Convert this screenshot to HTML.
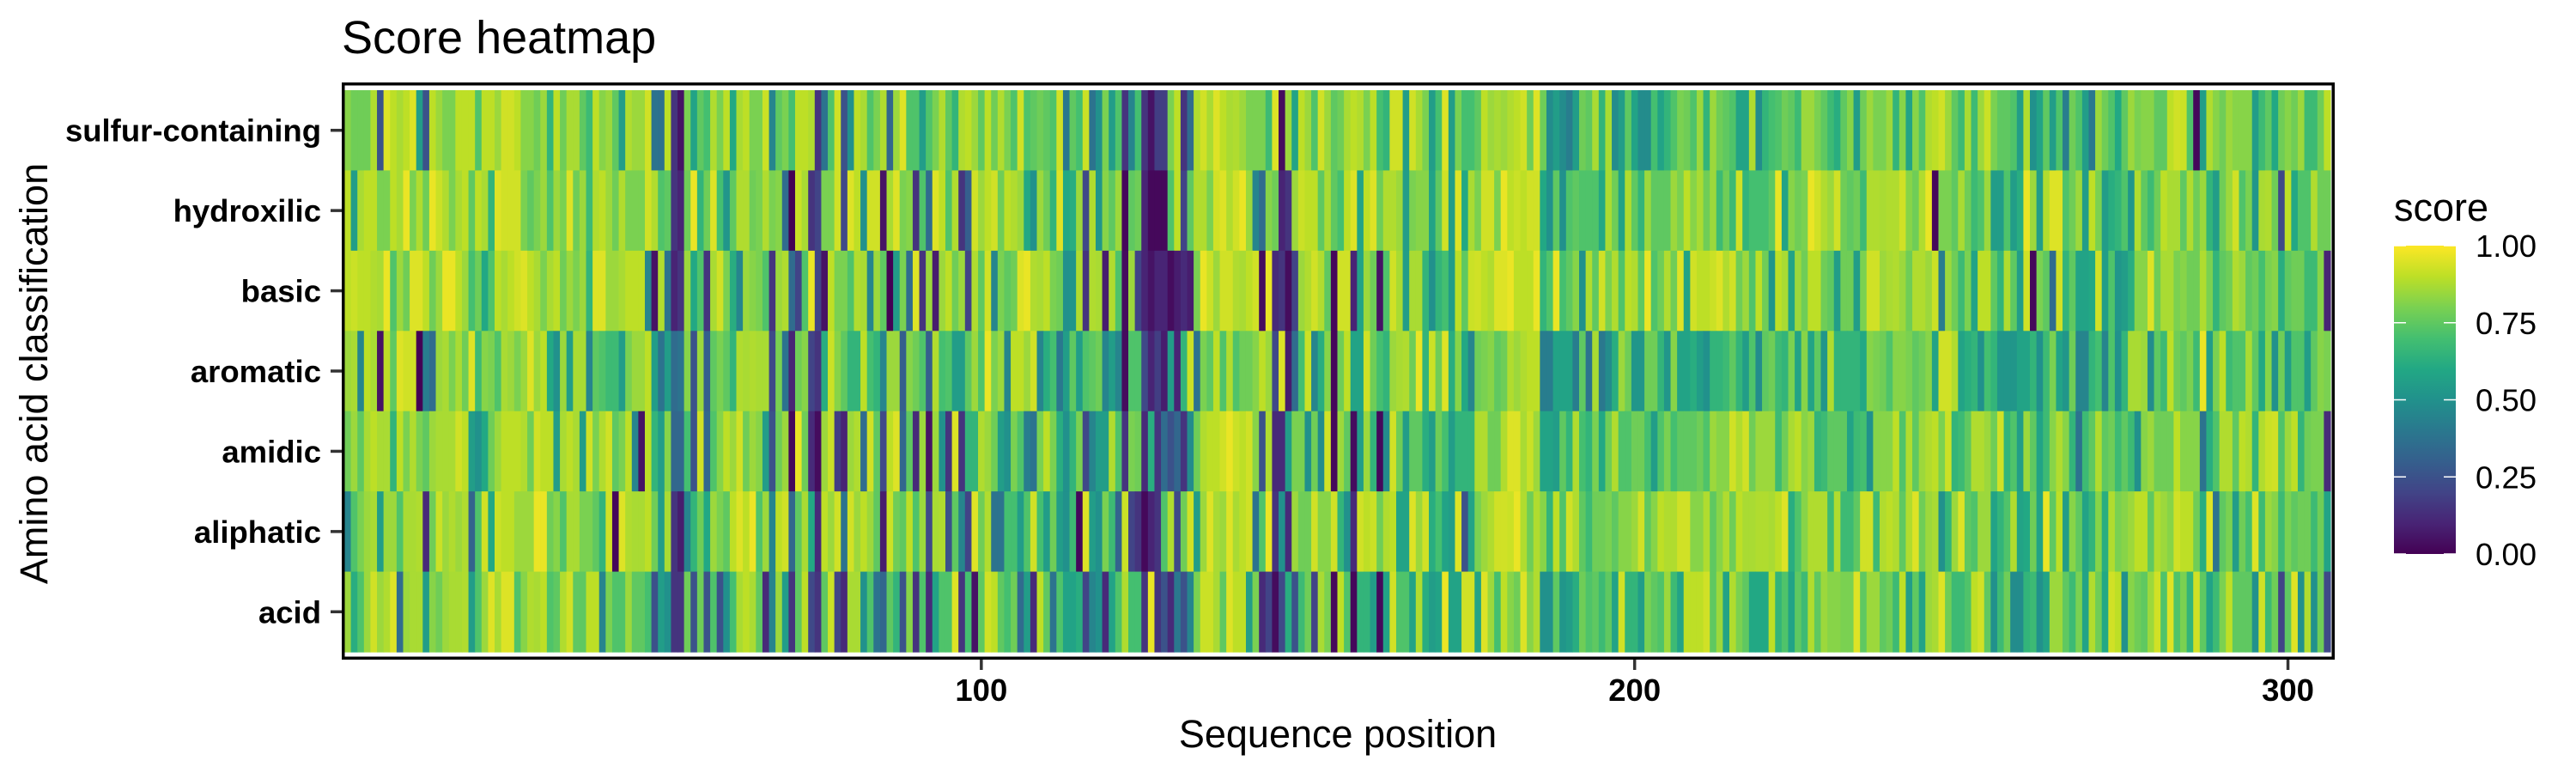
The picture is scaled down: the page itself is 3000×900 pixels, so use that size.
<!DOCTYPE html>
<html><head><meta charset="utf-8"><title>Score heatmap</title>
<style>
html,body{margin:0;padding:0;background:#fff;}
svg{display:block;font-family:"Liberation Sans",Arial,sans-serif;}
</style></head>
<body>
<svg id="chart" xmlns="http://www.w3.org/2000/svg" width="3000" height="900" viewBox="0 0 3000 900">
  <rect x="0" y="0" width="3000" height="900" fill="#fff"/>
  <text x="398" y="62" font-size="54" fill="#000">Score heatmap</text>
  <g id="tiles"></g>
  <rect x="399.75" y="97.75" width="2317.5" height="668.5" fill="none" stroke="#000" stroke-width="3.5"/>
  <g id="yaxis"></g>
  <g id="xaxis"></g>
  <text x="1558" y="870" font-size="45" text-anchor="middle" fill="#000">Sequence position</text>
  <text transform="translate(55,435) rotate(-90)" font-size="45" text-anchor="middle" fill="#000">Amino acid classification</text>
  <g id="legend">
    <text x="2788" y="257" font-size="45" fill="#000">score</text>
    <defs>
      <linearGradient id="vir" x1="0" y1="1" x2="0" y2="0">
        <stop offset="0" stop-color="#440154"/><stop offset="0.1" stop-color="#482475"/>
        <stop offset="0.2" stop-color="#414487"/><stop offset="0.3" stop-color="#355f8d"/>
        <stop offset="0.4" stop-color="#2a788e"/><stop offset="0.5" stop-color="#21918c"/>
        <stop offset="0.6" stop-color="#22a884"/><stop offset="0.7" stop-color="#44bf70"/>
        <stop offset="0.8" stop-color="#7ad151"/><stop offset="0.9" stop-color="#bddf26"/>
        <stop offset="1" stop-color="#fde725"/>
      </linearGradient>
    </defs>
    <rect x="2788" y="286" width="72" height="359" fill="url(#vir)"/>
    <g id="legendTicks"></g>
  </g>
</svg>
<script>
// ---- data ----
const categories = ["sulfur-containing","hydroxilic","basic","aromatic","amidic","aliphatic","acid"];
const firstPosition = 3;
const xTickValues = [100, 200, 300];
const xTickLabels = ["100", "200", "300"];
const legendTickValues = [0, 0.25, 0.5, 0.75, 1];
const legendTickLabels = ["0.00", "0.25", "0.50", "0.75", "1.00"];

const sulfurScores = [.82,.78,.78,.78,.88,.25,.95,.9,.87,.9,.95,.55,.25,.9,.85,.8,.8,.9,.9,.9,.72,.9,.9,.85,.93,.93,.9,.82,.82,.78,.85,.65,.9,.78,.87,.87,.75,.68,.9,.82,.85,.75,.55,.88,.85,.85,
.93,.38,.37,.9,.15,.05,.8,.58,.75,.7,.88,.8,.9,.6,.87,.9,.8,.8,.92,.45,.75,.8,.7,.9,.9,.88,.15,.38,.72,.93,.25,.5,.9,.87,.72,.8,.88,.33,.85,.95,.72,.72,.55,.72,.8,.88,.75,.65,.88,.9,.85,
.75,.9,.78,.88,.8,.72,.93,.72,.75,.78,.75,.72,.93,.4,.75,.7,.92,.38,.5,.8,.55,.72,.15,.45,.7,.15,.05,.18,.18,.8,.9,.15,.35,.88,.93,.87,.95,.9,.87,.88,.85,.8,.8,.8,.68,.95,.03,.85,.58,.9,.85,.72,
.93,.85,.75,.78,.87,.9,.88,.8,.9,.7,.65,.93,.93,.55,.93,.87,.8,.55,.7,.95,.55,.8,.7,.7,.75,.9,.85,.87,.85,.88,.9,.93,.78,.95,.78,.48,.55,.48,.42,.55,.78,.75,.87,.65,.87,.48,.55,.75,.58,.48,.48,.7,
.58,.65,.72,.8,.78,.72,.85,.65,.85,.78,.75,.72,.58,.58,.88,.48,.65,.7,.72,.78,.75,.68,.85,.85,.8,.75,.68,.62,.75,.82,.55,.78,.85,.8,.8,.85,.65,.82,.58,.82,.72,.88,.9,.93,.85,.75,.68,.87,.68,.85,.92,
.8,.75,.75,.72,.55,.88,.5,.58,.75,.55,.72,.42,.78,.72,.55,.4,.85,.78,.72,.6,.75,.85,.8,.82,.82,.75,.75,.9,.93,.92,.72,.02,.55,.88,.82,.78,.85,.82,.82,.82,.55,.68,.75,.6,.78,.82,.78,.85,.68,.68,.78,.9];

const hydroxilicScores = [.9,.55,.87,.9,.9,.8,.8,.9,.87,.97,.8,.88,.78,.97,.92,.88,.8,.87,.9,.75,.9,.87,.65,.95,.93,.93,.93,.8,.75,.8,.85,.72,.85,.8,.95,.78,.85,.68,.88,.9,.85,.78,.88,.8,.8,.8,
.93,.88,.72,.75,.15,.1,.78,.97,.65,.78,.95,.7,.52,.75,.88,.88,.78,.8,.88,.8,.82,.35,.0,.92,.87,.15,.2,.8,.8,.93,.22,.95,.9,.5,.93,.93,.05,.87,.95,.8,.82,.15,.72,.35,.95,.9,.72,.88,.15,.3,.93,
.85,.9,.93,.78,.9,.88,.85,.6,.5,.85,.78,.65,.95,.6,.62,.85,.22,.88,.52,.82,.75,.85,.02,.75,.78,.1,.02,.02,.02,.72,.9,.2,.75,.88,.88,.8,.93,.95,.88,.93,.97,.85,.45,.35,.82,.78,.1,.15,.85,.92,.9,.9,
.75,.87,.75,.7,.9,.95,.58,.9,.95,.78,.88,.88,.85,.55,.8,.82,.82,.58,.75,.93,.55,.95,.6,.87,.8,.93,.93,.8,.97,.9,.92,.9,.93,.93,.6,.5,.75,.5,.72,.75,.72,.72,.72,.6,.87,.78,.58,.88,.75,.65,.85,.75,
.75,.75,.85,.8,.9,.82,.87,.78,.85,.68,.78,.68,.93,.65,.7,.7,.7,.75,.97,.58,.82,.78,.8,.97,.93,.88,.85,.93,.78,.75,.78,.68,.88,.88,.87,.88,.88,.93,.82,.78,.88,.97,.02,.8,.8,.75,.87,.78,.68,.72,.85,
.55,.55,.72,.55,.62,.97,.85,.55,.88,.95,.95,.72,.78,.85,.55,.9,.8,.55,.62,.65,.72,.52,.88,.75,.68,.78,.9,.87,.87,.75,.88,.78,.85,.65,.55,.78,.85,.93,.72,.8,.52,.87,.88,.78,.22,.9,.6,.72,.72,.88,.78,.78];

const basicScores = [.9,.92,.9,.9,.88,.87,.97,.72,.85,.78,.95,.95,.9,.78,.85,.97,.97,.9,.85,.7,.78,.6,.72,.9,.87,.9,.93,.95,.9,.87,.8,.87,.9,.78,.85,.8,.85,.65,.95,.95,.85,.85,.87,.9,.9,.9,
.45,.05,.88,.38,.1,.15,.85,.6,.72,.15,.87,.93,.8,.62,.45,.85,.82,.8,.72,.15,.85,.88,.35,.2,.72,.97,.2,.05,.9,.8,.8,.72,.88,.87,.45,.85,.75,.0,.55,.8,.35,.95,.15,.85,.08,.85,.9,.78,.85,.2,.88,
.75,.93,.45,.8,.75,.78,.95,.97,.88,.87,.9,.8,.78,.5,.52,.88,.15,.88,.87,.08,.88,.72,.03,.85,.2,.1,.05,.1,.1,.03,.08,.12,.08,.8,.97,.92,.85,.93,.93,.88,.87,.9,.93,.03,.97,.12,.15,.03,.2,.85,.88,.93,
.88,.75,.02,.93,.93,.1,.58,.85,.78,.05,.72,.93,.87,.55,.87,.87,.65,.5,.65,.7,.55,.9,.75,.92,.93,.9,.88,.95,.95,.97,.9,.9,.9,.97,.65,.72,.97,.7,.75,.82,.5,.88,.75,.93,.8,.88,.72,.9,.88,.75,.97,.72,
.78,.88,.78,.95,.58,.93,.9,.9,.92,.95,.88,.93,.78,.85,.72,.9,.78,.52,.9,.87,.58,.85,.78,.9,.9,.78,.75,.55,.78,.78,.55,.8,.93,.93,.85,.87,.88,.85,.78,.88,.88,.85,.92,.42,.85,.78,.68,.8,.58,.9,.9,
.75,.65,.88,.75,.55,.93,.02,.8,.75,.35,.93,.65,.75,.58,.58,.6,.93,.55,.72,.52,.55,.62,.82,.82,.95,.78,.87,.87,.8,.82,.78,.78,.88,.8,.65,.75,.78,.88,.85,.75,.78,.7,.8,.82,.62,.75,.78,.78,.68,.68,.82,.1];

const aromaticScores = [.85,.87,.45,.9,.87,.05,.9,.75,.95,.93,.93,.0,.42,.35,.85,.87,.8,.87,.78,.95,.68,.82,.8,.72,.87,.85,.8,.85,.95,.85,.9,.6,.5,.85,.55,.87,.87,.45,.75,.72,.68,.68,.55,.8,.85,.85,
.9,.55,.38,.55,.35,.38,.82,.25,.85,.3,.75,.8,.75,.65,.88,.87,.88,.87,.87,.22,.8,.38,.1,.78,.82,.2,.15,.62,.92,.82,.75,.65,.65,.9,.7,.65,.45,.85,.85,.3,.82,.78,.72,.3,.88,.7,.72,.55,.55,.75,.85,
.72,.97,.8,.85,.45,.9,.9,.85,.93,.45,.62,.7,.4,.55,.75,.55,.72,.75,.78,.45,.55,.45,.03,.72,.72,.22,.1,.18,.08,.55,.1,.65,.92,.38,.8,.75,.9,.72,.88,.72,.78,.78,.82,.9,.85,.22,.95,.08,.35,.7,.92,.45,
.62,.82,.02,.78,.9,.58,.58,.93,.78,.7,.65,.85,.87,.88,.78,.97,.65,.92,.78,.95,.62,.82,.6,.45,.78,.8,.82,.75,.78,.88,.85,.88,.9,.9,.42,.42,.58,.58,.58,.42,.75,.38,.87,.4,.48,.62,.85,.78,.52,.52,.78,.78,
.65,.52,.82,.58,.58,.62,.55,.5,.65,.65,.68,.75,.65,.55,.72,.48,.75,.78,.68,.65,.8,.58,.82,.58,.75,.52,.88,.65,.65,.65,.65,.6,.82,.8,.78,.72,.82,.82,.8,.75,.78,.82,.58,.93,.93,.88,.58,.62,.65,.5,.7,
.65,.52,.52,.52,.58,.58,.65,.5,.68,.8,.58,.52,.78,.45,.45,.65,.7,.45,.72,.5,.65,.87,.87,.85,.48,.75,.68,.9,.78,.75,.8,.68,.97,.55,.8,.9,.68,.72,.72,.87,.75,.6,.82,.5,.78,.55,.72,.72,.55,.75,.82,.8];

const amidicScores = [.78,.85,.75,.87,.9,.87,.87,.65,.9,.8,.88,.8,.75,.85,.87,.87,.87,.93,.9,.55,.5,.6,.78,.85,.9,.9,.9,.88,.78,.93,.9,.9,.55,.87,.9,.87,.55,.93,.8,.88,.93,.75,.8,.9,.45,.05,
.9,.65,.55,.82,.33,.33,.7,.25,.93,.33,.72,.82,.9,.85,.93,.78,.85,.82,.55,.25,.78,.85,.02,.97,.78,.12,.03,.85,.92,.18,.1,.85,.88,.35,.93,.75,.22,.9,.95,.33,.75,.12,.85,.05,.85,.5,.15,.95,.15,.65,.65,
.88,.85,.78,.55,.5,.8,.72,.42,.38,.8,.9,.8,.62,.5,.65,.8,.22,.45,.55,.55,.88,.72,.15,.8,.78,.12,.62,.15,.35,.25,.33,.15,.48,.78,.88,.9,.9,.93,.97,.92,.9,.93,.82,.25,.88,.12,.12,.55,.8,.8,.5,.78,
.48,.93,.02,.85,.75,.03,.55,.85,.65,.02,.48,.93,.78,.55,.75,.75,.62,.55,.78,.7,.55,.65,.65,.65,.88,.88,.78,.78,.88,.95,.95,.87,.92,.85,.58,.58,.55,.75,.65,.88,.7,.65,.8,.6,.78,.88,.72,.72,.78,.78,.7,.55,
.72,.8,.7,.75,.75,.75,.78,.72,.85,.82,.82,.93,.88,.93,.78,.85,.85,.85,.68,.78,.87,.9,.82,.85,.65,.68,.75,.75,.75,.58,.68,.7,.5,.82,.82,.82,.9,.72,.88,.75,.85,.88,.9,.8,.92,.65,.68,.75,.88,.88,.85,
.78,.93,.65,.72,.55,.85,.75,.58,.68,.82,.88,.82,.65,.38,.68,.75,.88,.75,.78,.68,.75,.68,.5,.82,.85,.78,.78,.78,.9,.82,.82,.82,.38,.62,.72,.88,.88,.75,.9,.88,.65,.88,.92,.93,.72,.85,.9,.65,.78,.8,.8,.12];

const aliphaticScores = [.45,.72,.8,.85,.87,.55,.85,.85,.72,.87,.87,.88,.12,.78,.92,.85,.88,.85,.88,.32,.72,.93,.6,.92,.9,.9,.85,.85,.85,.97,.97,.78,.82,.72,.87,.87,.8,.8,.75,.65,.93,.02,.95,.88,.87,.87,
.9,.78,.55,.87,.15,.08,.45,.65,.78,.6,.85,.8,.75,.9,.95,.9,.97,.72,.85,.45,.9,.93,.33,.75,.87,.6,.12,.9,.85,.93,.38,.93,.85,.9,.85,.75,.08,.92,.78,.75,.9,.72,.85,.22,.87,.88,.25,.75,.45,.2,.95,
.78,.88,.38,.38,.7,.7,.55,.72,.93,.7,.55,.78,.55,.5,.68,.02,.95,.55,.5,.8,.68,.32,.92,.2,.15,.02,.1,.15,.72,.88,.22,.78,.93,.55,.85,.95,.87,.85,.95,.87,.9,.93,.38,.72,.97,.15,.5,.12,.85,.78,.78,.93,
.82,.82,.93,.65,.5,.12,.93,.9,.92,.78,.88,.9,.58,.58,.95,.85,.93,.62,.7,.58,.55,.95,.25,.58,.8,.85,.88,.93,.93,.92,.97,.88,.78,.88,.82,.65,.9,.72,.93,.88,.75,.68,.78,.78,.8,.75,.82,.82,.85,.93,.75,.82,
.9,.88,.88,.93,.93,.82,.82,.88,.75,.82,.88,.78,.9,.87,.87,.88,.88,.87,.9,.95,.62,.72,.82,.88,.88,.88,.68,.88,.68,.68,.75,.93,.93,.68,.88,.9,.88,.75,.88,.95,.78,.85,.87,.5,.65,.85,.95,.75,.72,.85,.85,
.58,.65,.72,.88,.58,.6,.78,.58,.97,.75,.9,.55,.82,.75,.58,.65,.82,.62,.88,.8,.82,.85,.9,.9,.75,.88,.85,.82,.93,.9,.9,.78,.62,.95,.38,.75,.8,.55,.78,.7,.95,.68,.85,.82,.68,.8,.75,.78,.78,.68,.78,.58];

const acidScores = [.85,.62,.72,.85,.93,.85,.88,.95,.35,.85,.87,.87,.55,.82,.78,.85,.87,.87,.88,.55,.72,.85,.95,.87,.95,.95,.72,.82,.88,.87,.9,.72,.75,.88,.93,.75,.75,.9,.9,.45,.8,.72,.72,.85,.75,.75,
.7,.25,.55,.5,.15,.15,.78,.25,.78,.25,.72,.25,.5,.7,.87,.9,.87,.75,.12,.45,.85,.55,.15,.75,.9,.22,.15,.75,.92,.2,.12,.87,.87,.5,.72,.38,.33,.75,.65,.25,.82,.15,.72,.12,.58,.72,.72,.95,.15,.7,.05,
.75,.93,.9,.75,.7,.78,.35,.55,.12,.9,.75,.38,.72,.58,.58,.62,.2,.45,.5,.12,.58,.72,.88,.7,.7,.15,.97,.15,.25,.12,.4,.25,.45,.8,.92,.92,.87,.75,.95,.9,.9,.55,.8,.12,.2,.03,.22,.62,.25,.68,.78,.2,
.87,.8,.02,.9,.72,.02,.65,.65,.55,.02,.58,.93,.72,.72,.58,.88,.62,.55,.58,.97,.58,.58,.93,.93,.58,.95,.85,.7,.9,.82,.78,.95,.82,.88,.5,.5,.75,.52,.55,.62,.78,.72,.75,.68,.75,.58,.93,.65,.65,.55,.8,.75,
.72,.85,.68,.58,.9,.9,.9,.93,.75,.85,.58,.88,.8,.75,.6,.6,.6,.9,.65,.72,.58,.75,.68,.88,.75,.85,.82,.82,.8,.8,.95,.75,.85,.85,.75,.78,.68,.9,.55,.75,.58,.85,.87,.95,.78,.68,.68,.72,.9,.93,.75,
.5,.68,.78,.48,.48,.65,.68,.5,.58,.85,.85,.75,.68,.8,.58,.88,.78,.6,.93,.9,.5,.82,.78,.75,.85,.93,.72,.95,.72,.8,.65,.93,.75,.58,.68,.8,.9,.75,.75,.75,.5,.93,.68,.78,.2,.75,.95,.5,.88,.5,.78,.22];

const rowSeries = [sulfurScores, hydroxilicScores, basicScores, aromaticScores, amidicScores, aliphaticScores, acidScores];

// ---- scales ----
const NS = "http://www.w3.org/2000/svg";
const plotLeft = 401, plotRight = 2714, plotTop = 105, plotBottom = 759;
const nCols = Math.max(...rowSeries.map(r => r.length));
const domainMin = firstPosition - 0.5, domainMax = firstPosition + nCols - 0.5;
function xScale(p) { return plotLeft + (p - domainMin) / (domainMax - domainMin) * (plotRight - plotLeft); }
const rowH = (plotBottom - plotTop) / categories.length;
function yBand(i) { return plotTop + i * rowH; }
const vStops = ["#440154","#482475","#414487","#355f8d","#2a788e","#21918c","#22a884","#44bf70","#7ad151","#bddf26","#fde725"];
function hex(c){return [parseInt(c.slice(1,3),16),parseInt(c.slice(3,5),16),parseInt(c.slice(5,7),16)];}
function viridis(v) {
  v = Math.max(0, Math.min(1, v));
  const t = v * 10, i = Math.min(9, Math.floor(t)), f = t - i;
  const a = hex(vStops[i]), b = hex(vStops[i+1]);
  return "rgb(" + a.map((x,k)=>Math.round(x+(b[k]-x)*f)).join(",") + ")";
}
const legendTop = 286, legendBottom = 645;
function legendY(v) { return legendBottom - v * (legendBottom - legendTop); }

// ---- tiles ----
const tiles = document.getElementById("tiles");
rowSeries.forEach((series, r) => {
  series.forEach((v, i) => {
    const p = firstPosition + i;
    const x0 = xScale(p - 0.5), x1 = xScale(p + 0.5);
    const rect = document.createElementNS(NS, "rect");
    rect.setAttribute("x", x0.toFixed(2));
    rect.setAttribute("y", yBand(r).toFixed(2));
    rect.setAttribute("width", (x1 - x0 + 0.6).toFixed(2));
    rect.setAttribute("height", (rowH + 0.6).toFixed(2));
    rect.setAttribute("fill", viridis(v));
    
    
    tiles.appendChild(rect);
  });
});

// ---- y axis ----
const yaxis = document.getElementById("yaxis");
categories.forEach((c, i) => {
  const cy = yBand(i) + rowH / 2;
  const t = document.createElementNS(NS, "text");
  t.setAttribute("x", 374); t.setAttribute("y", cy + 13);
  t.setAttribute("text-anchor", "end"); t.setAttribute("font-size", "36.5");
  t.setAttribute("font-weight", "bold"); t.setAttribute("fill", "#000");
  t.textContent = c;
  
  
  yaxis.appendChild(t);
  const l = document.createElementNS(NS, "line");
  l.setAttribute("x1", 385); l.setAttribute("x2", 398);
  l.setAttribute("y1", cy); l.setAttribute("y2", cy);
  l.setAttribute("stroke", "#333"); l.setAttribute("stroke-width", "3.5");
  
  
  yaxis.appendChild(l);
});

// ---- x axis ----
const xaxis = document.getElementById("xaxis");
xTickValues.forEach((v, i) => {
  const x = xScale(v);
  const l = document.createElementNS(NS, "line");
  l.setAttribute("x1", x); l.setAttribute("x2", x);
  l.setAttribute("y1", 768); l.setAttribute("y2", 780);
  l.setAttribute("stroke", "#333"); l.setAttribute("stroke-width", "3.5");
  
  
  xaxis.appendChild(l);
  const t = document.createElementNS(NS, "text");
  t.setAttribute("x", x); t.setAttribute("y", 816);
  t.setAttribute("text-anchor", "middle"); t.setAttribute("font-size", "36.5");
  t.setAttribute("font-weight", "bold"); t.setAttribute("fill", "#000");
  t.textContent = xTickLabels[i];
  
  
  xaxis.appendChild(t);
});

// ---- legend ticks ----
const lg = document.getElementById("legendTicks");
legendTickValues.forEach((v, i) => {
  const y = legendY(v);
  [[2788, 2802], [2846, 2860]].forEach(seg => {
    const l = document.createElementNS(NS, "line");
    l.setAttribute("x1", seg[0]); l.setAttribute("x2", seg[1]);
    l.setAttribute("y1", y); l.setAttribute("y2", y);
    l.setAttribute("stroke", "#fff"); l.setAttribute("stroke-width", "1.5");
    
    
    lg.appendChild(l);
  });
  const t = document.createElementNS(NS, "text");
  t.setAttribute("x", 2883); t.setAttribute("y", y + 13);
  t.setAttribute("font-size", "36.5"); t.setAttribute("fill", "#000");
  t.textContent = legendTickLabels[i];
  
  
  lg.appendChild(t);
});
</script>
</body></html>
